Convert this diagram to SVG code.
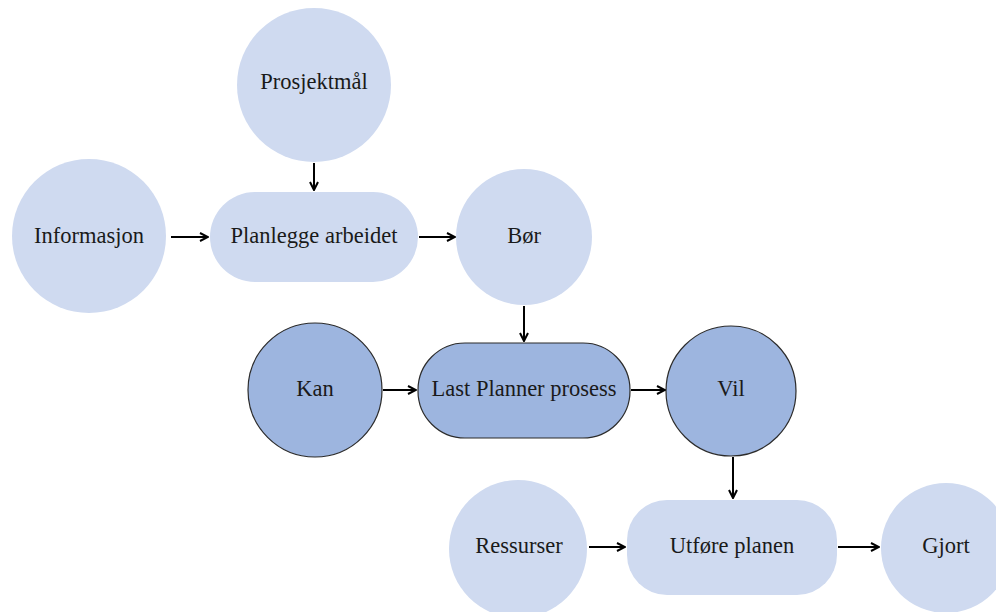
<svg xmlns="http://www.w3.org/2000/svg" width="996" height="612" viewBox="0 0 996 612">
<style>
.light{fill:#cfdaf0;stroke:none}
.dark{fill:#9db5df;stroke:#2b2b2b;stroke-width:1.2}
text{font-family:"Liberation Serif","Times New Roman",serif;font-size:22.5px;fill:#1a1a1a;text-anchor:middle;dominant-baseline:central}
.conn line{stroke:#000;stroke-width:2;marker-end:url(#ah)}
</style>
<defs>
<marker id="ah" viewBox="0 0 10 10" refX="9" refY="5" markerWidth="5" markerHeight="5" orient="auto" markerUnits="strokeWidth">
<path d="M1,1 L9,5 L1,9" fill="none" stroke="#000" stroke-width="2"/>
</marker>
</defs>
<rect width="996" height="612" fill="#fff"/>
<g id="prosjektmal"><circle class="light" cx="314" cy="85" r="77"/><text x="314" y="81">Prosjektmål</text></g>
<g id="informasjon"><circle class="light" cx="89" cy="236" r="77"/><text x="89" y="235">Informasjon</text></g>
<g id="planlegge"><rect class="light" x="210" y="192" width="208" height="90" rx="45"/><text x="314" y="235">Planlegge arbeidet</text></g>
<g id="bor"><circle class="light" cx="524" cy="237" r="68"/><text x="524" y="235">Bør</text></g>
<g id="kan"><circle class="dark" cx="315" cy="390" r="67"/><text x="315" y="388">Kan</text></g>
<g id="lastplanner"><rect class="dark" x="418" y="343" width="212" height="95" rx="47"/><text x="524" y="388">Last Planner prosess</text></g>
<g id="vil"><circle class="dark" cx="731" cy="391" r="65"/><text x="731" y="388">Vil</text></g>
<g id="ressurser"><circle class="light" cx="518" cy="549" r="69"/><text x="519" y="545">Ressurser</text></g>
<g id="utfore"><rect class="light" x="627" y="500" width="210" height="95" rx="40"/><text x="732" y="545">Utføre planen</text></g>
<g id="gjort"><circle class="light" cx="946" cy="548" r="65"/><text x="946" y="545">Gjort</text></g>
<g class="conn" id="connectors">
<line x1="314" y1="163" x2="314" y2="190"/>
<line x1="171" y1="237" x2="208" y2="237"/>
<line x1="419" y1="237" x2="455" y2="237"/>
<line x1="524" y1="306" x2="524" y2="341"/>
<line x1="383" y1="390" x2="416" y2="390"/>
<line x1="631" y1="390" x2="665" y2="390"/>
<line x1="733" y1="457" x2="733" y2="498"/>
<line x1="589" y1="547" x2="625" y2="547"/>
<line x1="838" y1="547" x2="879" y2="547"/>
</g>
</svg>
